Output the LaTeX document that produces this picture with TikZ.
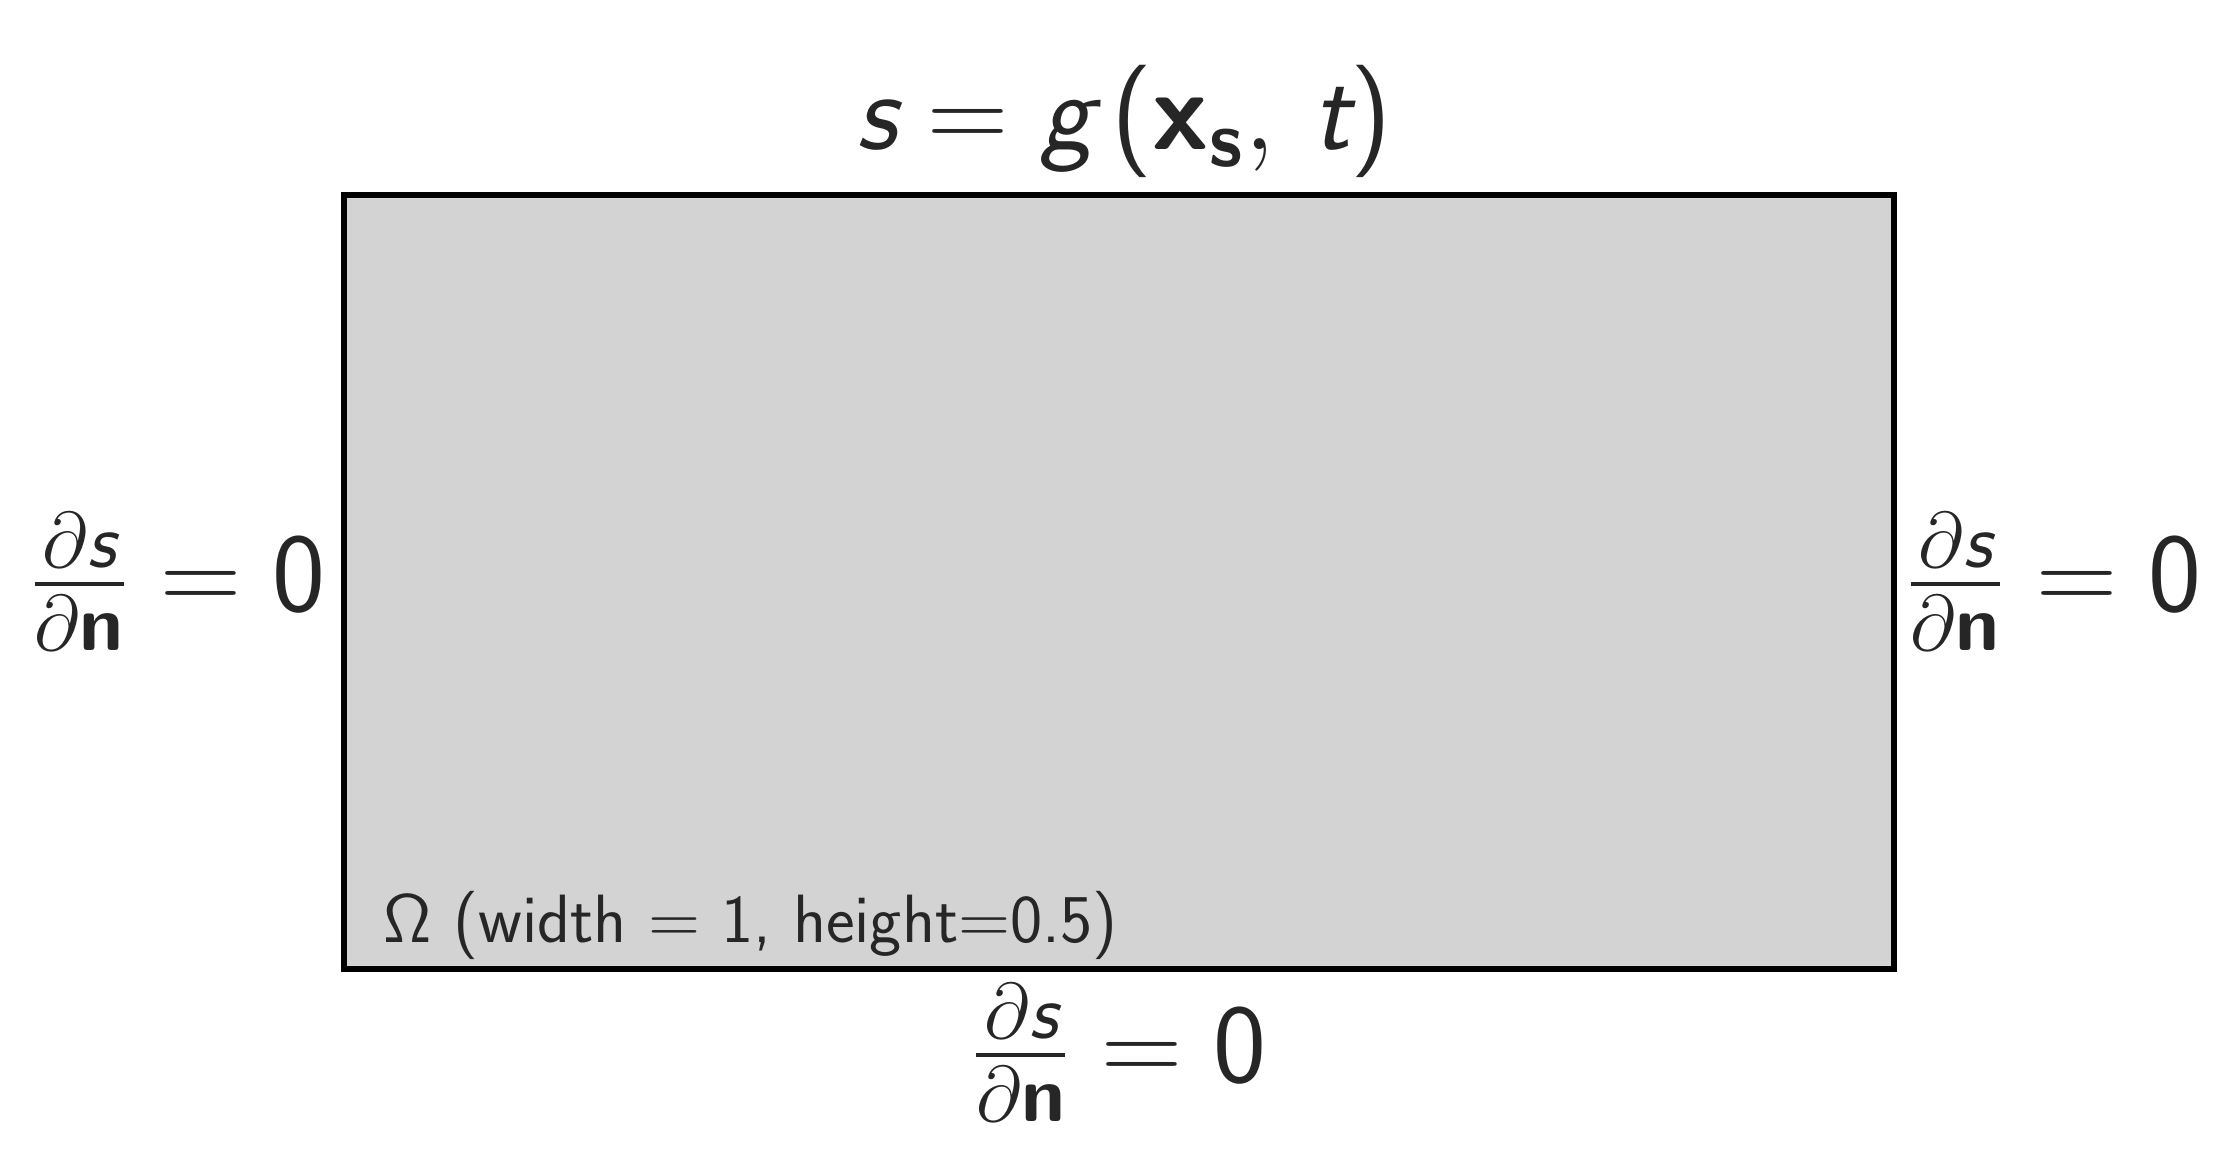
\RequirePackage{fix-cm}
\documentclass[tikz,border=0pt]{standalone}
\usepackage{amsmath}
\usetikzlibrary{positioning}
\definecolor{txt}{HTML}{262626}
\definecolor{domfill}{HTML}{D3D3D3}
\newcommand\msi[1]{\text{\sffamily\itshape #1}}
\newcommand\mbs[1]{\text{\sffamily\bfseries #1}}
\newcommand\mup[1]{\text{\sffamily #1}}
\newcommand\dsdn{\frac{\partial\msi{s}}{\partial\mbs{n}}=\mup{0}}
\tikzset{
  big/.style={inner sep=0pt, text=txt, font=\fontsize{27}{31}\selectfont},
  small/.style={inner sep=0pt, text=txt, font=\sffamily\fontsize{16.4}{19}\selectfont},
  domainbox/.style={draw=black, fill=domfill, line width=1.25pt}
}
\begin{document}
\begin{tikzpicture}[x=0.24pt,y=-0.24pt]
\useasboundingbox (0,0) rectangle (2238,1165);
\coordinate (nw) at (344,195);
\coordinate (se) at (1894,969);
\draw[domainbox] (nw) rectangle (se);
\node[big, anchor=base] (top) at (1124,150) {$\msi{s}=\msi{g}\,\mup{(}\mbs{x}_{\mbs{s}},\,\msi{t}\mup{)}$};
\node[big, anchor=base east] (left) at (326,612) {$\dsdn$};
\node[big, anchor=base west] (right) at (1905,612) {$\dsdn$};
\node[big, anchor=base] (bottom) at (1119,1083) {$\dsdn$};
\node[small, anchor=base west] (omega) at (383,943) {$\mathsf{\Omega}$ (width $=$ 1, height$=$0.5)};
\end{tikzpicture}
\end{document}
